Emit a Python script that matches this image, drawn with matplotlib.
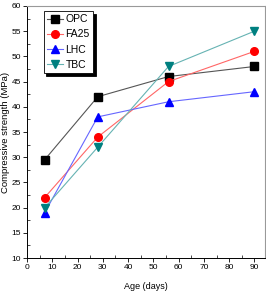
import matplotlib
matplotlib.use("Agg")
import matplotlib.pyplot as plt
from matplotlib.ticker import MultipleLocator

age = [7, 28, 56, 90]
opc = [29.5, 42, 46, 48]
fa25 = [22, 34, 45, 51]
lhc = [19, 38, 41, 43]
tbc = [20, 32, 48, 55]
labels = ["OPC", "FA25", "LHC", "TBC"]

plt.rcParams['font.family'] = ['Liberation Sans', 'DejaVu Sans']
fig = plt.figure(figsize=(2.66, 2.99), dpi=100)
ax = fig.add_axes([0.1015, 0.137, 0.893, 0.843])

series = [opc, fa25, lhc, tbc]
mcolors = ["black", "red", "blue", "#008080"]
lcolors = ["#555555", "#ff6666", "#6666ff", "#66b3b3"]
markers = ["s", "o", "^", "v"]
for s, mc, lc, m, lab in zip(series, mcolors, lcolors, markers, labels):
    ax.plot(age, s, color=lc, lw=0.8, marker=m, markersize=5.5,
            markerfacecolor=mc, markeredgecolor=mc, label=lab)

ax.set_xlim(0, 94)
ax.set_ylim(10, 60)
ax.xaxis.set_major_locator(MultipleLocator(10))
ax.xaxis.set_minor_locator(MultipleLocator(5))
ax.yaxis.set_major_locator(MultipleLocator(5))
ax.yaxis.set_minor_locator(MultipleLocator(2.5))
ax.tick_params(which='major', direction='out', length=3, width=0.6, labelsize=6, pad=1.5)
ax.tick_params(which='minor', direction='in', length=2, width=0.5)
for side in ['top', 'right']:
    ax.spines[side].set_color('#999999')
for side in ['left', 'bottom']:
    ax.spines[side].set_linewidth(0.7)

ax.set_xlabel("Age (days)", fontsize=6.5, labelpad=8)
ax.set_ylabel("Compressive strength (MPa)", fontsize=6.8, labelpad=1)

leg = ax.legend(loc='upper left', bbox_to_anchor=(0.07, 0.98), fontsize=7.5,
                frameon=True, fancybox=False, shadow={'color': 'black', 'alpha': 1},
                handlelength=1.6, handletextpad=0.2, borderpad=0.3,
                labelspacing=0.5, borderaxespad=0)
leg.get_frame().set_edgecolor('black')
leg.get_frame().set_linewidth(0.6)

fig.savefig("out.png", dpi=100)
